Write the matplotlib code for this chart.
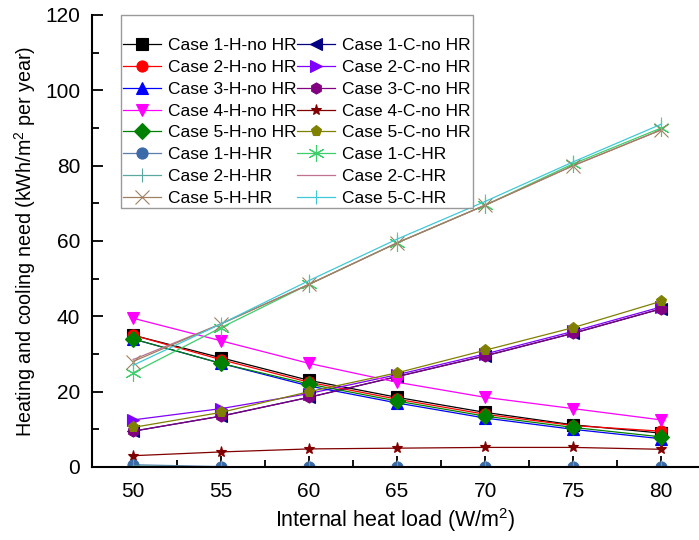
import matplotlib
matplotlib.use('Agg')
import matplotlib.pyplot as plt
from matplotlib.ticker import MultipleLocator

plt.rcParams['font.family'] = ['Liberation Sans', 'DejaVu Sans']
plt.rcParams['mathtext.fontset'] = 'custom'
plt.rcParams['mathtext.rm'] = 'Liberation Sans'

load = [50, 55, 60, 65, 70, 75, 80]

# heating, no heat recovery
h1_no = [35.0, 29.0, 23.0, 18.5, 14.5, 11.2, 9.0]
h2_no = [35.0, 28.5, 22.5, 18.0, 14.0, 11.0, 9.5]
h3_no = [34.0, 27.5, 21.5, 17.0, 13.0, 10.0, 7.5]
h4_no = [39.5, 33.5, 27.5, 22.5, 18.5, 15.5, 12.5]
h5_no = [34.0, 27.5, 22.0, 17.5, 13.5, 10.5, 8.0]
# cooling, no heat recovery
c1_no = [9.5, 13.5, 18.5, 24.0, 29.5, 35.5, 42.0]
c2_no = [12.5, 15.5, 19.5, 24.5, 30.0, 36.0, 42.5]
c3_no = [9.5, 13.5, 18.5, 24.0, 29.5, 35.5, 42.0]
c4_no = [3.0, 4.0, 4.8, 5.0, 5.2, 5.2, 4.7]
c5_no = [10.5, 14.5, 20.0, 25.0, 31.0, 37.0, 44.0]
# with heat recovery
h1_hr = [0.6, 0.1, 0.0, 0.0, 0.0, 0.0, 0.0]
c1_hr = [25.0, 37.0, 48.5, 59.5, 69.5, 80.5, 90.0]
h2_hr = [0.3, 0.0, 0.0, 0.0, 0.0, 0.0, 0.0]
c2_hr = [28.5, 38.0, 48.5, 59.5, 69.5, 80.0, 89.5]
h5_hr = [28.0, 38.0, 48.5, 59.5, 69.5, 80.0, 89.5]
c5_hr = [27.0, 38.0, 49.5, 60.5, 70.5, 81.0, 91.0]

fig = plt.figure(figsize=(6.99, 5.4), dpi=100)
ax = fig.add_axes([92/699, 1 - 467/540, 1 - 92/699, (467 - 15)/540])

lw = 0.9
ms = 8
series = [
    (h1_no, 'Case 1-H-no HR', 'black', 's', 'black'),
    (c1_no, 'Case 1-C-no HR', '#000080', '<', '#000080'),
    (h2_no, 'Case 2-H-no HR', 'red', 'o', 'red'),
    (c2_no, 'Case 2-C-no HR', '#8000ff', '>', '#8000ff'),
    (h3_no, 'Case 3-H-no HR', 'blue', '^', 'blue'),
    (c3_no, 'Case 3-C-no HR', '#800080', 'h', '#800080'),
    (h4_no, 'Case 4-H-no HR', '#ff00ff', 'v', '#ff00ff'),
    (c4_no, 'Case 4-C-no HR', '#800000', '*', '#800000'),
    (h5_no, 'Case 5-H-no HR', '#008000', 'D', '#008000'),
    (c5_no, 'Case 5-C-no HR', '#808000', 'p', '#808000'),
    (h1_hr, 'Case 1-H-HR', '#5b7fa8', 'o', '#3b6aa8'),
    (c1_hr, 'Case 1-C-HR', '#3ccf6a', (6, 2, 0), '#3ccf6a'),
    (h2_hr, 'Case 2-H-HR', '#5aa8a0', '|', '#5aa8a0'),
    (c2_hr, 'Case 2-C-HR', '#c07090', 'None', '#c07090'),
    (h5_hr, 'Case 5-H-HR', '#a08060', 'x', '#a08060'),
    (c5_hr, 'Case 5-C-HR', '#40c8d8', '|', '#40c8d8'),
]

handles = {}
for i, (vals, lab, col, mk, mcol) in enumerate(series):
    size = ms
    if mk in ('|', 'x'):
        size = 10
    elif isinstance(mk, tuple):
        size = 12
    h, = ax.plot(load, vals, color=col, lw=lw, marker=mk, ms=size,
                 markerfacecolor=mcol, markeredgecolor=mcol, mew=0.8, label=lab)
    handles[i] = h

# legend: column 1 even entries, column 2 odd entries
col1 = [0, 2, 4, 6, 8, 10, 12, 14]
col2 = [1, 3, 5, 7, 9, 11, 13, 15]
hs = [handles[i] for i in col1 + col2]
leg = ax.legend(handles=hs, ncol=2, loc='upper left', bbox_to_anchor=(0.047, 1.0),
                borderaxespad=0, fontsize=12.5, frameon=True, fancybox=False,
                edgecolor='#808080', handlelength=2.2, handletextpad=0.4,
                columnspacing=0.0, labelspacing=0.38, borderpad=0.15,
                title=' ', title_fontsize=10)
leg.get_frame().set_linewidth(1.0)

ax.set_xlim(47.67, 82.15)
ax.set_ylim(0, 120)
ax.xaxis.set_major_locator(MultipleLocator(5))
ax.xaxis.set_minor_locator(MultipleLocator(2.5))
ax.yaxis.set_major_locator(MultipleLocator(20))
ax.yaxis.set_minor_locator(MultipleLocator(10))
ax.tick_params(which='both', direction='in', width=1.3, labelsize=15)
ax.tick_params(which='major', length=8)
ax.tick_params(which='minor', length=5)
ax.tick_params(axis='x', pad=10.5)
ax.tick_params(axis='y', pad=8.5)
ax.spines['top'].set_visible(False)
ax.spines['right'].set_visible(False)
ax.spines['left'].set_linewidth(1.5)
ax.spines['bottom'].set_linewidth(1.5)

ax.set_xlabel(r'Internal heat load (W/m$^2$)', fontsize=15.5, labelpad=4)
ax.set_ylabel(r'Heating and cooling need (kWh/m$^2$ per year)', fontsize=14.2, labelpad=5)

fig.savefig('out.png', dpi=100)
